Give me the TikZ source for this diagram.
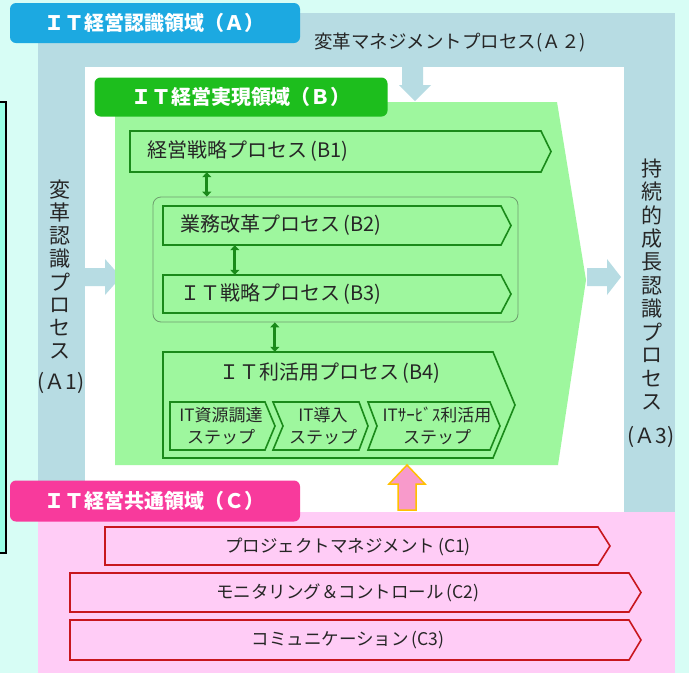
\documentclass[tikz,border=0pt]{standalone}
\usepackage{fontspec}
\setmainfont{Noto Sans CJK JP}
\usepackage{tikz}
\usetikzlibrary{calc, arrows.meta, fit}

\definecolor{bgcyan}{HTML}{D7FDF5}
\definecolor{boxcyan}{HTML}{99FFE6}
\definecolor{areaA}{HTML}{B7DCE3}
\definecolor{tagA}{HTML}{1CA9E1}
\definecolor{tagB}{HTML}{1DBE1D}
\definecolor{areaB}{HTML}{9EF79E}
\definecolor{lineB}{HTML}{1A8A1A}
\definecolor{lineG}{HTML}{6E9E6E}
\definecolor{tagC}{HTML}{F83A9C}
\definecolor{areaC}{HTML}{FFCCF6}
\definecolor{lineC}{HTML}{C8161E}
\definecolor{upfill}{HTML}{F89ACB}
\definecolor{upline}{HTML}{FFC000}
\definecolor{ink}{HTML}{262626}

\NewDocumentCommand{\chevron}{%
    O{}     % drawing options
    m       % name of the box
    m       % top left corner
    m       % bottom right corner, at the tip
    m       % depth of the tip
    O{0}    % depth of the notch
    }{%
    \path[#1] let
        \p1 = (#3),
        \p2 = (#4),
        \p3 = ($(#3)!0.5!(#4)$)
    in
        (\x1,\y1) -- ({\x2-#5pt},\y1) -- (\x2,\y3) -- ({\x2-#5pt},\y2)
        -- (\x1,\y2) -- ({\x1+#6pt},\y3) -- cycle;
    \node[fit={(#3)(#4)}, inner sep=0pt] (#2) {};
}

\tikzset{
    tag/.style={rounded corners=6pt, minimum width=290pt, minimum height=40pt,
        inner sep=0pt, text=white, font=\fontsize{20}{24}\selectfont\bfseries},
    procB/.style={draw=lineB, line width=1.6pt, fill=areaB},
    procC/.style={draw=lineC, line width=1.6pt, fill=areaC},
    boxtxt/.style={inner sep=0pt, text=ink, font=\fontsize{20}{23}\selectfont},
    ctxt/.style={inner sep=0pt, text=ink, font=\fontsize{17.5}{20}\selectfont},
    steptxt/.style={inner sep=0pt, text=ink, align=center,
        font=\fontsize{17}{22}\selectfont},
    vtxt/.style={inner sep=0pt, text=ink, font=\fontsize{21}{22}\selectfont},
    twoway/.style={draw=lineB, line width=3pt,
        {Triangle[width=9pt,length=5pt]}-{Triangle[width=9pt,length=5pt]}},
}

\begin{document}
\begin{tikzpicture}[x=1pt, y=-1pt]
    \useasboundingbox (0,0) rectangle (689,673);
    \fill[bgcyan] (0,0) rectangle (689,673);
    \draw[line width=1.5pt, fill=boxcyan] (-10,102) rectangle (6,553);

    % area A
    \fill[areaA] (38,13) rectangle (675,673);
    \fill[white] (85,67) rectangle (624,512);
    \fill[areaA] (402,67) -- (423,67) -- (423,85) -- (431,85) -- (415,101)
        -- (399,85) -- (402,85) -- cycle;
    \fill[areaA] (85,268) -- (105,268) -- (105,259) -- (121,277) -- (105,295)
        -- (105,286) -- (85,286) -- cycle;
    \fill[areaA] (587,268) -- (607,268) -- (607,259) -- (621,277) -- (607,295)
        -- (607,286) -- (587,286) -- cycle;
    \node[tag, fill=tagA] (tagA) at (155,23) {ＩＴ経営認識領域（Ａ）};
    \node[boxtxt, font=\fontsize{18.5}{22}\selectfont] (a2) at (450,43)
        {変革マネジメントプロセス(Ａ２)};
    \foreach \ch [count=\i] in {変,革,認,識,プ,ロ,セ,ス}
        \node[vtxt] (a1-\i) at (60,{167+23*\i}) {\ch};
    \node[vtxt] (a1) at (61,383) {(Ａ1)};
    \foreach \ch [count=\i] in {持,続,的,成,長,認,識,プ,ロ,セ,ス}
        \node[vtxt] (a3-\i) at (652,{145+23.4*\i}) {\ch};
    \node[vtxt] (a3) at (651,437) {(Ａ3)};

    % area B
    \fill[areaB] (115,102) -- (557,102) -- (586,280) -- (558,465) -- (115,465) -- cycle;
    \node[tag, fill=tagB, minimum width=293pt, minimum height=39pt] (tagB)
        at (241,97) {ＩＴ経営実現領域（Ｂ）};
    \chevron[procB]{b1}{130,131}{551,172}{10}
    \node[boxtxt, anchor=west] (b1txt) at ([xshift=17pt]b1.west) {経営戦略プロセス\,(B1)};
    \node[draw=lineG, line width=0.8pt, rounded corners=8pt, inner sep=0pt,
        fit={(153,197)(518,322)}] (grp) {};
    \chevron[procB]{b2}{163,206}{511,245}{10}
    \node[boxtxt, anchor=west] (b2txt) at ([xshift=17pt]b2.west) {業務改革プロセス\,(B2)};
    \chevron[procB]{b3}{163,275}{511,313}{10}
    \node[boxtxt, anchor=west] (b3txt) at ([xshift=17pt]b3.west) {ＩＴ戦略プロセス\,(B3)};
    \chevron[procB]{b4}{163,352}{515,458}{22}
    \node[boxtxt] (b4txt) at (330,373) {ＩＴ利活用プロセス\,(B4)};
    \chevron[procB]{s1}{170,402}{275,450}{10}
    \chevron[procB]{s2}{273,402}{368,450}{9}[10]
    \chevron[procB]{s3}{368,402}{500,450}{10}[9]
    \node[steptxt] (s1txt) at (221,426) {IT資源調達\\ステップ};
    \node[steptxt] (s2txt) at (323,426) {IT導入\\ステップ};
    \node[steptxt] (s3txt) at (437,426) {ITｻｰﾋﾞｽ利活用\\ステップ};

    \draw[twoway] ([xshift=77pt]b1.south west) -- ([xshift=77pt]b1.south west |- grp.north);
    \draw[twoway] ([xshift=72pt]b2.south west) -- ([xshift=72pt]b2.south west |- b3.north);
    \draw[twoway] ([xshift=112pt]b4.north west |- grp.south) -- ([xshift=112pt]b4.north west);

    % area C
    \fill[areaC] (38,512) rectangle (675,673);
    \draw[fill=upfill, draw=upline, line width=1.5pt] (398,510) -- (398,484) -- (389,484)
        -- (407,465) -- (425,484) -- (416,484) -- (416,510) -- cycle;
    \node[tag, fill=tagC, minimum height=41pt] (tagC) at (155,501) {ＩＴ経営共通領域（Ｃ）};
    \chevron[procC]{c1}{105,527}{610,565}{12}
    \node[ctxt] (c1txt) at (348,547) {プロジェクトマネジメント\,(C1)};
    \chevron[procC]{c2}{70,573}{641,612}{12}
    \node[ctxt] (c2txt) at (348,593) {モニタリング＆コントロール\,(C2)};
    \chevron[procC]{c3}{70,620}{641,660}{12}
    \node[ctxt] (c3txt) at (348,640) {コミュニケーション\,(C3)};
\end{tikzpicture}
\end{document}
